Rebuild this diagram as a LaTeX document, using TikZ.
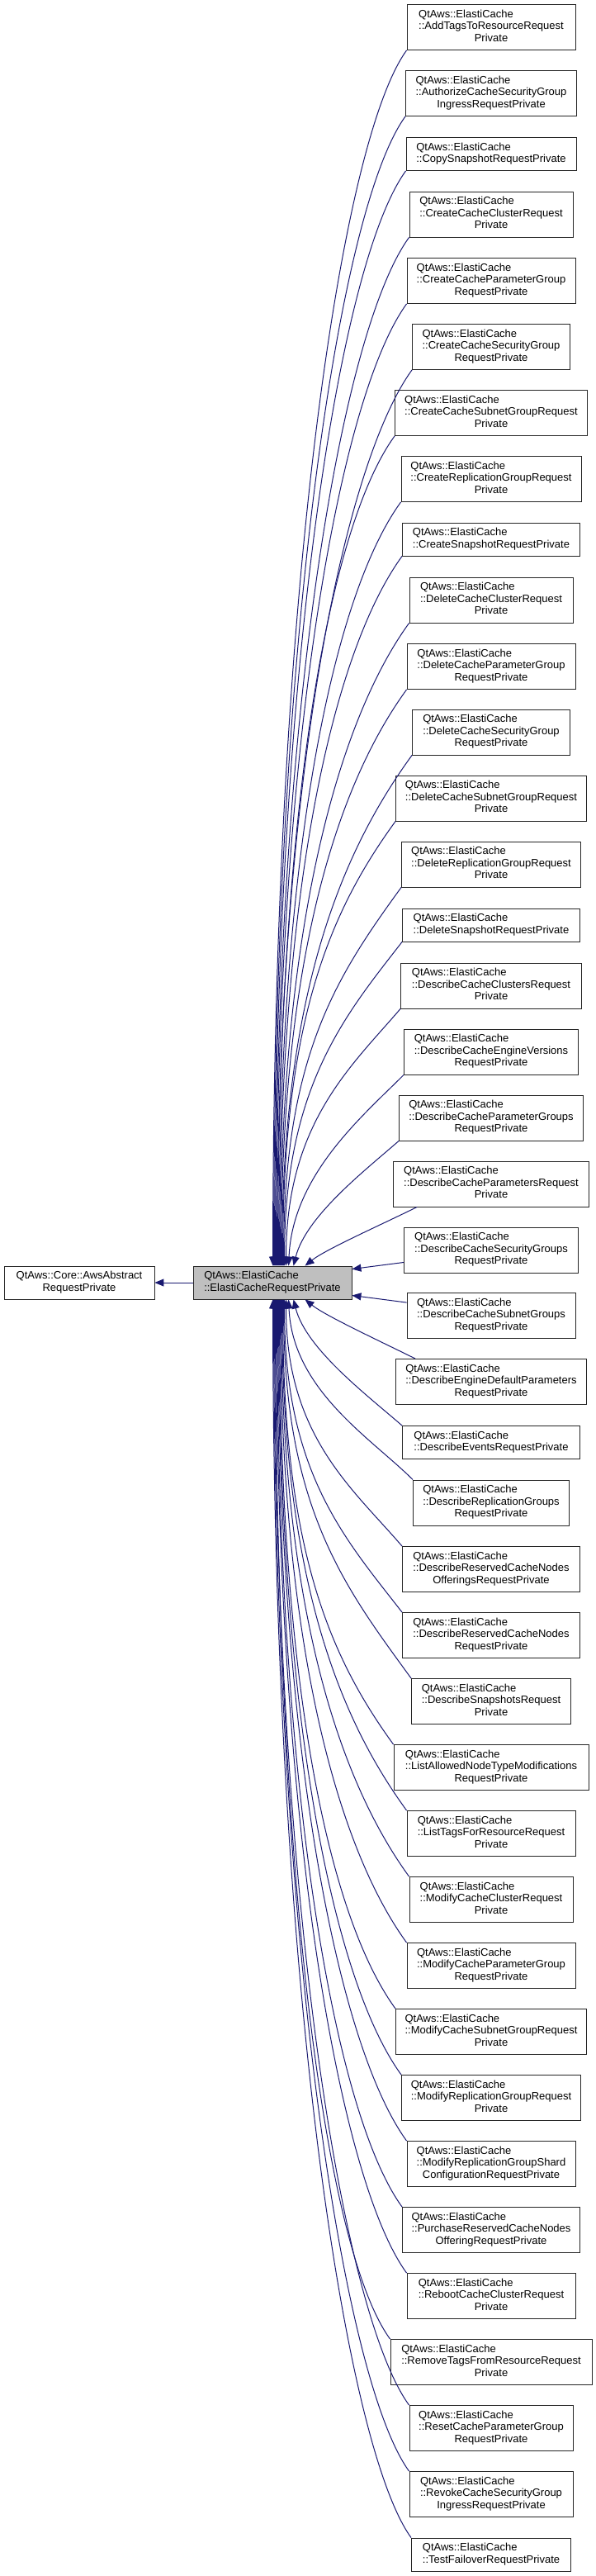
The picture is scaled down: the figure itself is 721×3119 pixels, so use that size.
\documentclass[tikz,border=0pt]{standalone}
\usepackage{fontspec}
\setmainfont{Liberation Sans}
\usetikzlibrary{arrows.meta, calc}
\usepackage{xcolor}
\definecolor{edgeblue}{HTML}{191970}
\definecolor{curgray}{HTML}{BFBFBF}
\newcommand{\lblthree}[3]{\begin{tabular}{@{}l@{}}#1\\#2\\\multicolumn{1}{@{}c@{}}{#3}\end{tabular}}
\newcommand{\lbltwo}[2]{\begin{tabular}{@{}l@{}}#1\\\multicolumn{1}{@{}c@{}}{#2}\end{tabular}}
\tikzset{
  cbox/.style  = {draw=black!85, line width=0.9pt, fill=white, inner sep=0pt,
                  minimum height=55, font=\fontsize{13}{14.5}\selectfont},
  cbox2/.style = {cbox, minimum height=40},
  inh/.style   = {draw=edgeblue, line width=1pt, -{Triangle[length=11pt, width=9pt]}},
}

\begin{document}
\begin{tikzpicture}[x=1pt, y=-1pt]
\useasboundingbox (0,0) rectangle (721,3119);

%% ---- (1) Base classes ----
\node[cbox2, minimum width=182] (base) at (96, 1553) {\lbltwo{QtAws::Core::AwsAbstract}{RequestPrivate}};
\node[cbox2, minimum width=192, fill=curgray] (mid) at (330, 1553) {\lbltwo{QtAws::ElastiCache}{::ElastiCacheRequestPrivate}};

\draw[inh] (mid) -- (base);

%% ---- (2) Derived request classes ----
\node[cbox,  minimum width=204] (addtags)       at (595,   33)   {\lblthree{QtAws::ElastiCache}{::AddTagsToResourceRequest}{Private}};
\node[cbox,  minimum width=207] (authingress)   at (595,  113)   {\lblthree{QtAws::ElastiCache}{::AuthorizeCacheSecurityGroup}{IngressRequestPrivate}};
\node[cbox2, minimum width=206] (copysnap)      at (595,  186.5) {\lbltwo{QtAws::ElastiCache}{::CopySnapshotRequestPrivate}};
\node[cbox,  minimum width=198] (crcluster)     at (595,  259.5) {\lblthree{QtAws::ElastiCache}{::CreateCacheClusterRequest}{Private}};
\node[cbox,  minimum width=204] (crparamgrp)    at (595,  340)   {\lblthree{QtAws::ElastiCache}{::CreateCacheParameterGroup}{RequestPrivate}};
\node[cbox,  minimum width=191] (crsecgrp)      at (595,  420)   {\lblthree{QtAws::ElastiCache}{::CreateCacheSecurityGroup}{RequestPrivate}};
\node[cbox,  minimum width=233] (crsubnetgrp)   at (595,  500)   {\lblthree{QtAws::ElastiCache}{::CreateCacheSubnetGroupRequest}{Private}};
\node[cbox,  minimum width=218] (crrepgrp)      at (595,  580)   {\lblthree{QtAws::ElastiCache}{::CreateReplicationGroupRequest}{Private}};
\node[cbox2, minimum width=215] (crsnap)        at (595,  653)   {\lbltwo{QtAws::ElastiCache}{::CreateSnapshotRequestPrivate}};
\node[cbox,  minimum width=198] (delcluster)    at (595,  726.5) {\lblthree{QtAws::ElastiCache}{::DeleteCacheClusterRequest}{Private}};
\node[cbox,  minimum width=204] (delparamgrp)   at (595,  807)   {\lblthree{QtAws::ElastiCache}{::DeleteCacheParameterGroup}{RequestPrivate}};
\node[cbox,  minimum width=191] (delsecgrp)     at (595,  886.5) {\lblthree{QtAws::ElastiCache}{::DeleteCacheSecurityGroup}{RequestPrivate}};
\node[cbox,  minimum width=231] (delsubnetgrp)  at (595,  966.5) {\lblthree{QtAws::ElastiCache}{::DeleteCacheSubnetGroupRequest}{Private}};
\node[cbox,  minimum width=217] (delrepgrp)     at (595, 1046.5) {\lblthree{QtAws::ElastiCache}{::DeleteReplicationGroupRequest}{Private}};
\node[cbox2, minimum width=215] (delsnap)       at (595, 1120)   {\lbltwo{QtAws::ElastiCache}{::DeleteSnapshotRequestPrivate}};
\node[cbox,  minimum width=219] (desclusters)   at (595, 1193.5) {\lblthree{QtAws::ElastiCache}{::DescribeCacheClustersRequest}{Private}};
\node[cbox,  minimum width=211] (desengver)     at (595, 1273.5) {\lblthree{QtAws::ElastiCache}{::DescribeCacheEngineVersions}{RequestPrivate}};
\node[cbox,  minimum width=223] (desparamgrps)  at (595, 1353.5) {\lblthree{QtAws::ElastiCache}{::DescribeCacheParameterGroups}{RequestPrivate}};
\node[cbox,  minimum width=237] (desparams)     at (595, 1433.5) {\lblthree{QtAws::ElastiCache}{::DescribeCacheParametersRequest}{Private}};
\node[cbox,  minimum width=211] (dessecgrps)    at (595, 1513.5) {\lblthree{QtAws::ElastiCache}{::DescribeCacheSecurityGroups}{RequestPrivate}};
\node[cbox,  minimum width=204] (dessubnetgrps) at (595, 1593)   {\lblthree{QtAws::ElastiCache}{::DescribeCacheSubnetGroups}{RequestPrivate}};
\node[cbox,  minimum width=231] (desengdef)     at (595, 1673)   {\lblthree{QtAws::ElastiCache}{::DescribeEngineDefaultParameters}{RequestPrivate}};
\node[cbox2, minimum width=215] (desevents)     at (595, 1746.5) {\lbltwo{QtAws::ElastiCache}{::DescribeEventsRequestPrivate}};
\node[cbox,  minimum width=189] (desrepgrps)    at (595, 1819.5) {\lblthree{QtAws::ElastiCache}{::DescribeReplicationGroups}{RequestPrivate}};
\node[cbox,  minimum width=215] (desresoff)     at (595, 1900)   {\lblthree{QtAws::ElastiCache}{::DescribeReservedCacheNodes}{OfferingsRequestPrivate}};
\node[cbox,  minimum width=215] (desres)        at (595, 1980)   {\lblthree{QtAws::ElastiCache}{::DescribeReservedCacheNodes}{RequestPrivate}};
\node[cbox,  minimum width=193] (dessnaps)      at (595, 2060)   {\lblthree{QtAws::ElastiCache}{::DescribeSnapshotsRequest}{Private}};
\node[cbox,  minimum width=236] (listnodetype)  at (595, 2140)   {\lblthree{QtAws::ElastiCache}{::ListAllowedNodeTypeModifications}{RequestPrivate}};
\node[cbox,  minimum width=204] (listtags)      at (595, 2220)   {\lblthree{QtAws::ElastiCache}{::ListTagsForResourceRequest}{Private}};
\node[cbox,  minimum width=198] (modcluster)    at (595, 2300)   {\lblthree{QtAws::ElastiCache}{::ModifyCacheClusterRequest}{Private}};
\node[cbox,  minimum width=204] (modparamgrp)   at (595, 2380)   {\lblthree{QtAws::ElastiCache}{::ModifyCacheParameterGroup}{RequestPrivate}};
\node[cbox,  minimum width=231] (modsubnetgrp)  at (595, 2460)   {\lblthree{QtAws::ElastiCache}{::ModifyCacheSubnetGroupRequest}{Private}};
\node[cbox,  minimum width=217] (modrepgrp)     at (595, 2540)   {\lblthree{QtAws::ElastiCache}{::ModifyReplicationGroupRequest}{Private}};
\node[cbox,  minimum width=204] (modshard)      at (595, 2620)   {\lblthree{QtAws::ElastiCache}{::ModifyReplicationGroupShard}{ConfigurationRequestPrivate}};
\node[cbox,  minimum width=215] (purchase)      at (595, 2700)   {\lblthree{QtAws::ElastiCache}{::PurchaseReservedCacheNodes}{OfferingRequestPrivate}};
\node[cbox,  minimum width=204] (reboot)        at (595, 2780)   {\lblthree{QtAws::ElastiCache}{::RebootCacheClusterRequest}{Private}};
\node[cbox,  minimum width=244] (rmtags)        at (595, 2860)   {\lblthree{QtAws::ElastiCache}{::RemoveTagsFromResourceRequest}{Private}};
\node[cbox,  minimum width=198] (resetparam)    at (595, 2940)   {\lblthree{QtAws::ElastiCache}{::ResetCacheParameterGroup}{RequestPrivate}};
\node[cbox,  minimum width=198] (revoke)        at (595, 3020)   {\lblthree{QtAws::ElastiCache}{::RevokeCacheSecurityGroup}{IngressRequestPrivate}};
\node[cbox2, minimum width=193] (failover)      at (595, 3093)   {\lbltwo{QtAws::ElastiCache}{::TestFailoverRequestPrivate}};

%% ---- (3) Inheritance edges: classes above the base ----
\draw[inh] (addtags.south west)      .. controls +(-80,110) and +(0,-810) .. ([xshift=97]mid.north west);
\draw[inh] (authingress.south west)  .. controls +(-80,110) and +(0,-766) .. ([xshift=98]mid.north west);
\draw[inh] (copysnap.south west)     .. controls +(-80,110) and +(0,-730) .. ([xshift=99]mid.north west);
\draw[inh] (crcluster.south west)    .. controls +(-80,110) and +(0,-685) .. ([xshift=100]mid.north west);
\draw[inh] (crparamgrp.south west)   .. controls +(-80,110) and +(0,-641) .. ([xshift=101]mid.north west);
\draw[inh] (crsecgrp.south west)     .. controls +(-80,110) and +(0,-597) .. ([xshift=102]mid.north west);
\draw[inh] (crsubnetgrp.south west)  .. controls +(-80,110) and +(0,-553) .. ([xshift=103]mid.north west);
\draw[inh] (crrepgrp.south west)     .. controls +(-80,110) and +(0,-509) .. ([xshift=104]mid.north west);
\draw[inh] (crsnap.south west)       .. controls +(-80,110) and +(0,-473) .. ([xshift=105]mid.north west);
\draw[inh] (delcluster.south west)   .. controls +(-80,110) and +(0,-428) .. ([xshift=106]mid.north west);
\draw[inh] (delparamgrp.south west)  .. controls +(-80,110) and +(0,-384) .. ([xshift=107]mid.north west);
\draw[inh] (delsecgrp.south west)    .. controls +(-80,110) and +(0,-340) .. ([xshift=108]mid.north west);
\draw[inh] (delsubnetgrp.south west) .. controls +(-80,110) and +(0,-296) .. ([xshift=109]mid.north west);
\draw[inh] (delrepgrp.south west)    .. controls +(-80,110) and +(0,-252) .. ([xshift=110]mid.north west);
\draw[inh] (delsnap.south west)      .. controls +(-70,90)  and +(0,-216) .. ([xshift=111]mid.north west);
\draw[inh] (desclusters.south west)  .. controls +(-60,70)  and +(0,-172) .. ([xshift=113]mid.north west);
\draw[inh] (desengver.south west)    .. controls +(-50,50)  and +(5,-110) .. ([xshift=116]mid.north west);
\draw[inh] (desparamgrps.south west) .. controls +(-40,35)  and +(15,-60) .. ([xshift=122]mid.north west);
\draw[inh] ([xshift=29]desparams.south west) .. controls +(-40,20) and +(25,-20) .. ([xshift=136]mid.north west);

%% ---- (4) Inheritance edges: classes level with the base ----
\draw[inh] ([yshift=13]dessecgrps.south west) -- ([yshift=-4]mid.north east);
\draw[inh] ([yshift=-12]dessubnetgrps.north west) -- ([yshift=5]mid.south east);

%% ---- (5) Inheritance edges: classes below the base ----
\draw[inh] ([xshift=24]desengdef.north west) .. controls +(-40,-20) and +(25,20) .. ([xshift=136]mid.south west);
\draw[inh] (desevents.north west)    .. controls +(-40,-35) and +(15,60)  .. ([xshift=122]mid.south west);
\draw[inh] (desrepgrps.north west)   .. controls +(-50,-50) and +(5,110)  .. ([xshift=116]mid.south west);
\draw[inh] (desresoff.north west)    .. controls +(-60,-70) and +(0,165)  .. ([xshift=113]mid.south west);
\draw[inh] (desres.north west)       .. controls +(-70,-90) and +(0,209)  .. ([xshift=111]mid.south west);
\draw[inh] (dessnaps.north west)     .. controls +(-80,-110) and +(0,253) .. ([xshift=110]mid.south west);
\draw[inh] (listnodetype.north west) .. controls +(-80,-110) and +(0,297) .. ([xshift=109]mid.south west);
\draw[inh] (listtags.north west)     .. controls +(-80,-110) and +(0,341) .. ([xshift=108]mid.south west);
\draw[inh] (modcluster.north west)   .. controls +(-80,-110) and +(0,385) .. ([xshift=107]mid.south west);
\draw[inh] (modparamgrp.north west)  .. controls +(-80,-110) and +(0,429) .. ([xshift=106]mid.south west);
\draw[inh] (modsubnetgrp.north west) .. controls +(-80,-110) and +(0,473) .. ([xshift=105]mid.south west);
\draw[inh] (modrepgrp.north west)    .. controls +(-80,-110) and +(0,517) .. ([xshift=104]mid.south west);
\draw[inh] (modshard.north west)     .. controls +(-80,-110) and +(0,561) .. ([xshift=103]mid.south west);
\draw[inh] (purchase.north west)     .. controls +(-80,-110) and +(0,605) .. ([xshift=102]mid.south west);
\draw[inh] (reboot.north west)       .. controls +(-80,-110) and +(0,649) .. ([xshift=101]mid.south west);
\draw[inh] (rmtags.north west)       .. controls +(-80,-110) and +(0,693) .. ([xshift=100]mid.south west);
\draw[inh] (resetparam.north west)   .. controls +(-80,-110) and +(0,737) .. ([xshift=99]mid.south west);
\draw[inh] (revoke.north west)       .. controls +(-80,-110) and +(0,781) .. ([xshift=98]mid.south west);
\draw[inh] (failover.north west)     .. controls +(-80,-110) and +(0,825) .. ([xshift=97]mid.south west);

\end{tikzpicture}
\end{document}
